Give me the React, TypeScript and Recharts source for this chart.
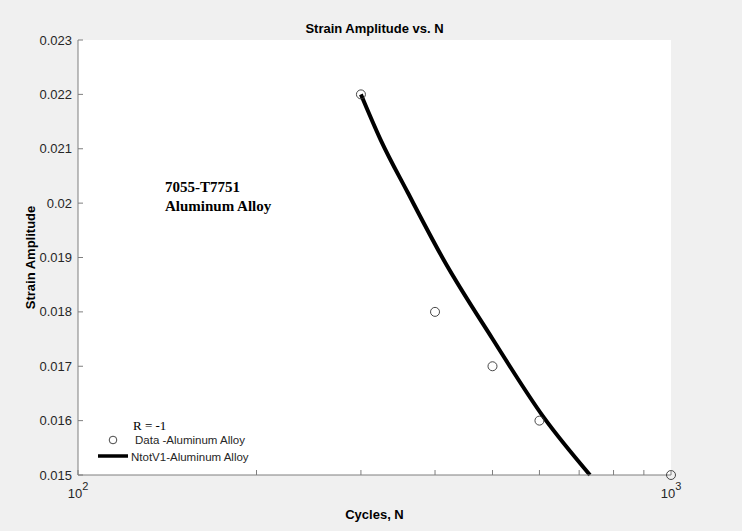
import {
  ComposedChart,
  Line,
  Scatter,
  XAxis,
  YAxis,
} from 'recharts'

// measured cycles vs strain amplitude
const dataCycles = [300, 400, 500, 600, 1000]
const dataStrain = [0.022, 0.018, 0.017, 0.016, 0.015]

// fitted curve
const fitCycles = [300, 324, 360, 414, 499, 611, 730]
const fitStrain = [0.022, 0.02116, 0.02019, 0.01895, 0.01752, 0.01605, 0.015]

const xTicks = [100, 200, 300, 400, 500, 600, 700, 800, 900, 1000]
const yTicks = [0.015, 0.016, 0.017, 0.018, 0.019, 0.02, 0.021, 0.022, 0.023]

const scatterData = dataCycles.map((x, i) => ({ x, y: dataStrain[i] }))
const fitData = fitCycles.map((x, i) => ({ x, y: fitStrain[i] }))

const W = 742
const H = 531
const AXIS = '#7f7f7f'
const TXT = '#262626'
const SANS = '"Liberation Sans", Arial, Helvetica, sans-serif'
const SERIF = '"Liberation Serif", "Times New Roman", serif'

const BottomTick = (props: any) => {
  const { x, y, payload } = props
  const v = payload.value
  const exp = v === 100 ? '2' : v === 1000 ? '3' : null
  return (
    <g>
      <line x1={x} x2={x} y1={y} y2={y - 5} stroke={AXIS} />
      {exp && (
        <text x={x} y={y + 23} textAnchor="middle" fontSize={13} fill={TXT} fontFamily={SANS}>
          10
          <tspan dy={-8} fontSize={11}>{exp}</tspan>
        </text>
      )}
    </g>
  )
}

const TopTick = (props: any) => {
  const { x, y } = props
  return <line x1={x} x2={x} y1={y} y2={y + 5} stroke={AXIS} />
}

const LeftTick = (props: any) => {
  const { x, y, payload } = props
  const label = String(Number(payload.value.toFixed(3)))
  return (
    <g>
      <line x1={x} x2={x + 5} y1={y} y2={y} stroke={AXIS} />
      <text x={x - 6} y={y} dy={4.5} textAnchor="end" fontSize={13} fill={TXT} fontFamily={SANS}>
        {label}
      </text>
    </g>
  )
}

const RightTick = (props: any) => {
  const { x, y } = props
  return <line x1={x} x2={x - 5} y1={y} y2={y} stroke={AXIS} />
}

export default function App() {
  return (
    <div style={{ position: 'absolute', left: 0, top: 0, width: W, height: H, background: '#f0f0f0', fontFamily: SANS }}>
      <div
        style={{
          position: 'absolute',
          left: 78,
          width: 593,
          top: 21,
          textAlign: 'center',
          fontSize: 13,
          fontWeight: 'bold',
          color: '#000',
        }}
      >
        Strain Amplitude vs. N
      </div>
      <ComposedChart width={W} height={H} margin={{ top: 40, right: 71, bottom: 0, left: 0 }}>
        <rect x={78} y={40} width={593} height={435} fill="#fff" />
        <XAxis
          xAxisId="b"
          dataKey="x"
          type="number"
          scale="log"
          domain={[100, 1000]}
          ticks={xTicks}
          interval={0}
          height={56}
          tickSize={0}
          tickMargin={0}
          tick={<BottomTick />}
          axisLine={{ stroke: AXIS }}
          label={{ value: 'Cycles, N', position: 'insideBottom', offset: 12, fontSize: 13, fontWeight: 'bold', fill: '#000' }}
        />
        <XAxis
          xAxisId="t"
          dataKey="x"
          type="number"
          scale="log"
          orientation="top"
          domain={[100, 1000]}
          ticks={xTicks}
          interval={0}
          height={0}
          tickSize={0}
          tickMargin={0}
          tick={<TopTick />}
          axisLine={{ stroke: AXIS }}
        />
        <YAxis
          yAxisId="l"
          type="number"
          domain={[0.015, 0.023]}
          ticks={yTicks}
          interval={0}
          width={78}
          tickSize={0}
          tickMargin={0}
          tick={<LeftTick />}
          axisLine={{ stroke: AXIS }}
          label={{
            value: 'Strain Amplitude',
            angle: -90,
            position: 'insideLeft',
            offset: 30,
            fontSize: 13,
            fontWeight: 'bold',
            fill: '#000',
            style: { textAnchor: 'middle' },
          }}
        />
        <YAxis
          yAxisId="r"
          type="number"
          orientation="right"
          domain={[0.015, 0.023]}
          ticks={yTicks}
          interval={0}
          width={0}
          tickSize={0}
          tickMargin={0}
          tick={<RightTick />}
          axisLine={{ stroke: AXIS }}
        />
        <Line
          xAxisId="b"
          yAxisId="l"
          data={fitData}
          dataKey="y"
          type="monotone"
          stroke="#000"
          strokeWidth={4}
          dot={false}
          activeDot={false}
          isAnimationActive={false}
        />
        <Scatter
          xAxisId="b"
          yAxisId="l"
          data={scatterData}
          dataKey="y"
          shape={(p: any) => <circle cx={p.cx} cy={p.cy} r={4.5} fill="none" stroke="#333" strokeWidth={0.9} />}
          isAnimationActive={false}
        />
      </ComposedChart>

      <div
        style={{
          position: 'absolute',
          left: 165,
          top: 178,
          fontFamily: SERIF,
          fontWeight: 'bold',
          fontSize: 15,
          lineHeight: '19px',
          color: '#000',
        }}
      >
        7055-T7751
        <br />
        Aluminum Alloy
      </div>

      <div style={{ position: 'absolute', left: 133, top: 418, fontFamily: SERIF, fontSize: 13, color: '#000' }}>
        R = -1
      </div>
      <svg style={{ position: 'absolute', left: 0, top: 0 }} width={W} height={H} pointerEvents="none">
        <circle cx={113} cy={440} r={3.8} fill="none" stroke="#333" strokeWidth={0.9} />
        <line x1={98} x2={128} y1={456} y2={456} stroke="#000" strokeWidth={3.5} />
        <text x={135} y={444} fontSize={11.5} fill={TXT} fontFamily={SANS}>
          Data -Aluminum Alloy
        </text>
        <text x={131} y={461} fontSize={11.5} fill={TXT} fontFamily={SANS}>
          NtotV1-Aluminum Alloy
        </text>
      </svg>
    </div>
  )
}
